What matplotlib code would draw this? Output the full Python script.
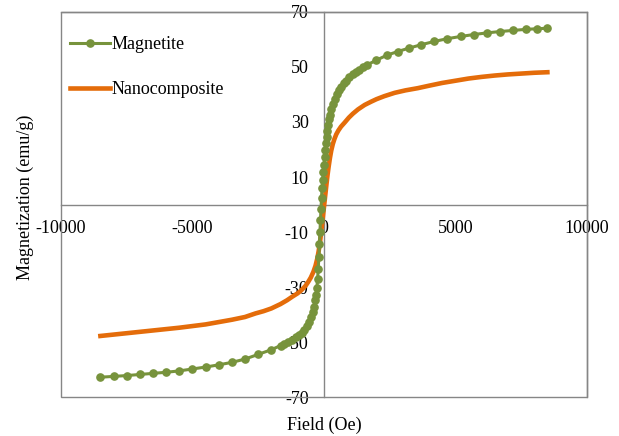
import matplotlib
matplotlib.use("Agg")
import matplotlib.pyplot as plt
from matplotlib.patches import Rectangle

plt.rcParams["font.family"] = ["Liberation Serif", "DejaVu Serif"]
plt.rcParams["axes.unicode_minus"] = False

# Magnetite: field (Oe) and magnetization (emu/g)
mag_field = [-8500, -8000, -7500, -7000, -6500, -6000, -5500, -5000, -4500, -4000,
             -3500, -3000, -2500, -2000, -1650, -1500, -1350, -1200, -1050, -950,
             -850, -750, -650, -560, -480, -420, -370, -320, -300, -270,
             -240, -215, -190, -170, -150, -130, -110, -90, -70, -50,
             -25, 0, 25, 50, 75, 100, 130, 160, 195, 230,
             280, 340, 410, 480, 560, 650, 750, 850, 970, 1100,
             1230, 1350, 1500, 1650, 2000, 2400, 2800, 3250, 3700, 4200,
             4700, 5200, 5700, 6200, 6700, 7200, 7700, 8100, 8500]
mag_m = [-62.8, -62.5, -62.2, -61.8, -61.4, -61.0, -60.5, -59.8, -59.1, -58.3,
         -57.4, -56.2, -54.5, -52.8, -51.3, -50.8, -50.0, -49.2, -48.3, -47.5,
         -46.6, -45.6, -44.3, -42.8, -41.0, -39.2, -37.2, -34.8, -33.0, -30.5,
         -27.2, -23.5, -19.0, -14.5, -10.0, -5.5, -1.5, 2.5, 6.0, 9.0,
         11.8, 14.5, 17.2, 19.8, 22.2, 24.4, 26.8, 29.0, 31.0, 32.7,
         34.7, 36.6, 38.5, 40.1, 41.6, 42.9, 44.0, 45.0, 46.2, 47.3,
         48.2, 49.0, 49.9, 50.8, 52.5, 54.3, 55.6, 56.9, 58.1, 59.3,
         60.3, 61.1, 61.8, 62.4, 62.9, 63.3, 63.7, 63.9, 64.1]

# Nanocomposite
nano_field = [-8500, -7500, -6500, -5500, -4500, -3500, -3000, -2600, -2300, -2000,
              -1650, -1400, -1200, -1000, -850, -700, -600, -500, -400, -320,
              -250, -200, -150, -100, -50, 0, 50, 100, 140, 180,
              230, 280, 340, 400, 470, 550, 650, 790, 950, 1100,
              1300, 1550, 1800, 2000, 2300, 2690, 3100, 3570, 4000, 4500,
              5000, 5500, 6000, 6500, 7000, 7500, 8000, 8500]
nano_m = [-47.8, -46.8, -45.8, -44.8, -43.6, -41.9, -40.9, -39.6, -38.8, -37.8,
          -36.2, -34.8, -33.5, -32.3, -31.1, -29.6, -28.2, -26.6, -24.5, -22.3,
          -19.6, -17.0, -13.8, -9.8, -5.5, -1.2, 3.2, 7.5, 10.8, 13.7,
          16.9, 19.6, 22.0, 23.8, 25.5, 26.9, 28.3, 29.8, 31.6, 33.0,
          34.6, 36.2, 37.4, 38.3, 39.4, 40.6, 41.5, 42.3, 43.2, 44.2,
          45.0, 45.8, 46.4, 46.9, 47.3, 47.6, 47.9, 48.1]

x_ticks = [-10000, -5000, 0, 5000, 10000]
y_ticks = [-70, -50, -30, -10, 10, 30, 50, 70]

fig = plt.figure(figsize=(6.19, 4.36), dpi=100)
ax = fig.add_axes([0.0985, 0.0894, 0.8495, 0.8831])

ax.plot(nano_field, nano_m, color="#E46C0A", lw=3.3, label="Nanocomposite", zorder=3)
ax.plot(mag_field, mag_m, color="#77933C", lw=2.2, marker="o", ms=5.2,
        label="Magnetite", zorder=4)

ax.set_xlim(-10000, 10000)
ax.set_ylim(-70, 70)
ax.set_xticks(x_ticks)
ax.set_yticks(y_ticks)

grey = "#868686"
ax.spines["left"].set_position(("data", 0))
ax.spines["bottom"].set_position(("data", 0))
for s in ax.spines.values():
    s.set_color(grey)
    s.set_linewidth(1.0)
ax.add_patch(Rectangle((0, 0), 1, 1, transform=ax.transAxes, fill=False,
                       edgecolor=grey, lw=1.0, clip_on=False, zorder=5))
ax.tick_params(length=0, labelsize=13, pad=11)

ax.set_xlabel("Field (Oe)", fontsize=13)
ax.set_ylabel("Magnetization (emu/g)", fontsize=13)
ax.xaxis.set_label_coords(0.5, -0.05)
ax.yaxis.set_label_coords(-0.052, 0.518)

handles, labels = ax.get_legend_handles_labels()
ax.legend(handles[::-1], labels[::-1], loc="upper left", bbox_to_anchor=(0.018, 0.937),
          frameon=False, fontsize=13, handlelength=2.2, handletextpad=0.1,
          labelspacing=1.55, borderpad=0, borderaxespad=0)

fig.savefig("out.png", dpi=100)
